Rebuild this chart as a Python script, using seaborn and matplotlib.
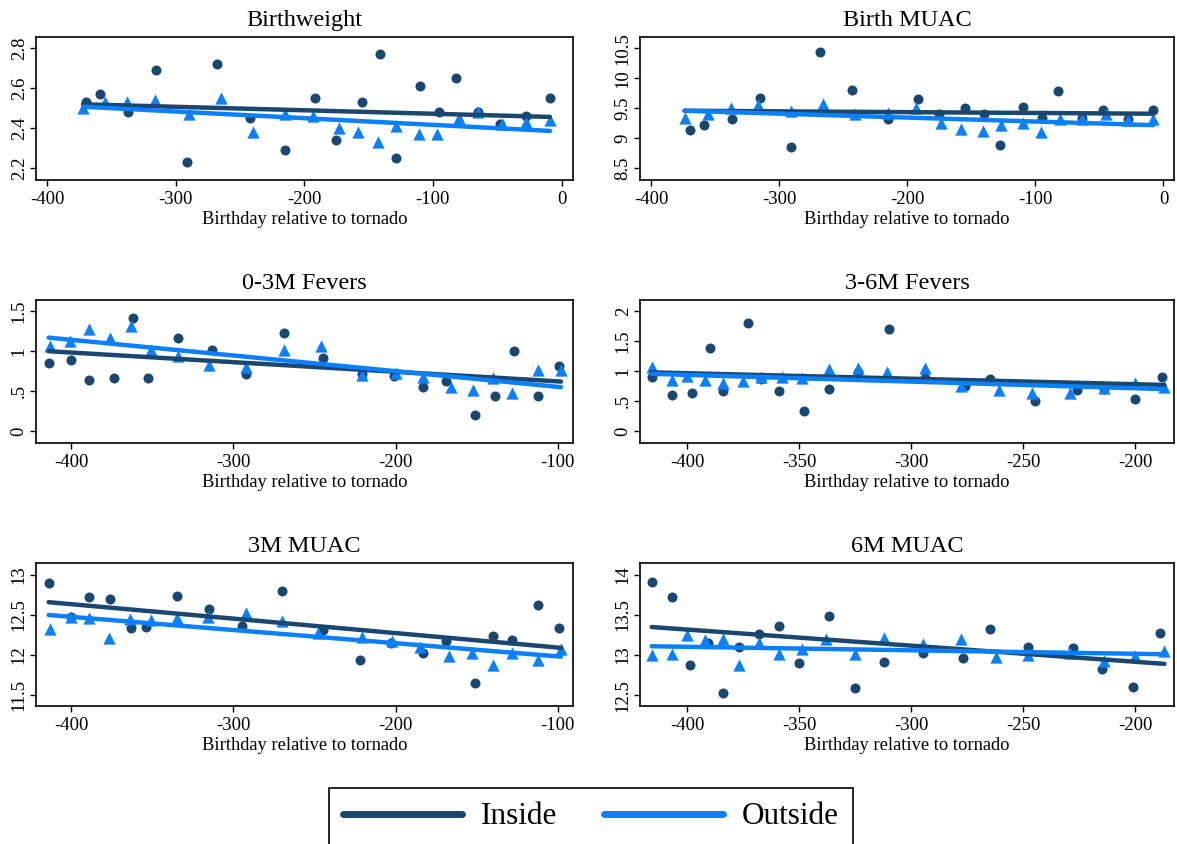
import matplotlib
matplotlib.use("Agg")
import matplotlib.pyplot as plt
from matplotlib.lines import Line2D
import seaborn as sns

# Colours
INSIDE = "#1a476f"
OUTSIDE = "#0a80ff"

# Birthweight
bw_x_in = [-370, -359, -337, -315, -291, -268, -242, -215, -192, -175, -155, -141, -129, -110, -95, -82, -65, -48, -28, -9]
bw_y_in = [2.53, 2.57, 2.48, 2.69, 2.23, 2.72, 2.45, 2.29, 2.55, 2.34, 2.53, 2.77, 2.25, 2.61, 2.48, 2.65, 2.48, 2.42, 2.46, 2.55]
bw_x_out = [-372, -355, -338, -316, -290, -265, -240, -215, -193, -173, -158, -143, -129, -111, -97, -80, -65, -46, -28, -9]
bw_y_out = [2.50, 2.53, 2.53, 2.54, 2.47, 2.55, 2.38, 2.47, 2.46, 2.40, 2.38, 2.33, 2.41, 2.37, 2.37, 2.45, 2.48, 2.42, 2.43, 2.44]
bw_fit_x = [-372, -9]
bw_fit_in = [2.52, 2.457]
bw_fit_out = [2.508, 2.387]

# Birth MUAC
mu_x_in = [-370, -359, -337, -315, -291, -268, -243, -215, -192, -175, -155, -140, -128, -110, -95, -82, -64, -47, -28, -8]
mu_y_in = [9.14, 9.22, 9.33, 9.67, 8.85, 10.44, 9.80, 9.32, 9.65, 9.41, 9.50, 9.41, 8.89, 9.52, 9.34, 9.79, 9.34, 9.47, 9.33, 9.48]
mu_x_out = [-374, -356, -338, -317, -291, -266, -241, -215, -193, -174, -158, -141, -127, -110, -96, -81, -64, -45, -28, -8]
mu_y_out = [9.34, 9.41, 9.51, 9.55, 9.45, 9.58, 9.40, 9.42, 9.50, 9.25, 9.16, 9.12, 9.22, 9.25, 9.10, 9.33, 9.33, 9.40, 9.30, 9.33]
mu_fit_x = [-374, -8]
mu_fit_in = [9.46, 9.41]
mu_fit_out = [9.46, 9.22]

# 0-3M Fevers
f3_x_in = [-414, -400, -389, -374, -362, -353, -334, -313, -292, -269, -245, -221, -201, -183, -169, -151, -139, -127, -112, -99]
f3_y_in = [0.85, 0.89, 0.64, 0.67, 1.41, 0.67, 1.16, 1.01, 0.72, 1.23, 0.91, 0.72, 0.69, 0.55, 0.63, 0.20, 0.44, 1.00, 0.44, 0.81]
f3_x_out = [-413, -401, -389, -376, -363, -351, -334, -315, -292, -269, -246, -221, -200, -183, -166, -152, -140, -128, -112, -98]
f3_y_out = [1.06, 1.13, 1.28, 1.16, 1.31, 1.02, 0.94, 0.83, 0.80, 1.02, 1.06, 0.70, 0.73, 0.68, 0.55, 0.51, 0.67, 0.48, 0.77, 0.77]
f3_fit_x = [-414, -98]
f3_fit_in = [1.00, 0.62]
f3_fit_out = [1.17, 0.55]

# 3-6M Fevers
f6_x_in = [-416, -407, -398, -390, -384, -373, -367, -359, -348, -337, -324, -310, -294, -276, -265, -245, -226, -214, -200, -188]
f6_y_in = [0.91, 0.60, 0.63, 1.38, 0.67, 1.80, 0.87, 0.67, 0.33, 0.70, 0.99, 1.70, 0.89, 0.76, 0.87, 0.50, 0.69, 0.71, 0.54, 0.90]
f6_x_out = [-416, -407, -400, -392, -384, -375, -367, -358, -349, -337, -324, -311, -294, -278, -261, -246, -229, -214, -200, -187]
f6_y_out = [1.07, 0.86, 0.92, 0.85, 0.81, 0.84, 0.91, 0.90, 0.88, 1.03, 1.06, 0.98, 1.06, 0.75, 0.69, 0.64, 0.64, 0.72, 0.81, 0.74]
f6_fit_x = [-416, -187]
f6_fit_in = [0.98, 0.77]
f6_fit_out = [0.955, 0.70]

# 3M MUAC
m3_x_in = [-414, -400, -389, -376, -363, -354, -335, -315, -295, -270, -245, -222, -203, -183, -169, -151, -140, -128, -112, -99]
m3_y_in = [12.90, 12.47, 12.73, 12.70, 12.34, 12.35, 12.74, 12.58, 12.36, 12.80, 12.31, 11.94, 12.15, 12.02, 12.18, 11.65, 12.24, 12.19, 12.63, 12.34]
m3_x_out = [-413, -400, -389, -377, -364, -351, -335, -316, -292, -270, -248, -221, -202, -185, -167, -153, -140, -128, -112, -98]
m3_y_out = [12.33, 12.48, 12.46, 12.21, 12.45, 12.44, 12.46, 12.47, 12.52, 12.42, 12.28, 12.23, 12.18, 12.10, 11.99, 12.02, 11.88, 12.03, 11.94, 12.08]
m3_fit_x = [-414, -98]
m3_fit_in = [12.66, 12.09]
m3_fit_out = [12.50, 11.98]

# 6M MUAC
m6_x_in = [-416, -407, -399, -391, -384, -377, -368, -359, -350, -337, -325, -312, -295, -277, -265, -248, -228, -215, -201, -189]
m6_y_in = [13.91, 13.72, 12.88, 13.15, 12.53, 13.10, 13.26, 13.36, 12.90, 13.49, 12.59, 12.91, 13.02, 12.96, 13.33, 13.10, 13.09, 12.83, 12.60, 13.28]
m6_x_out = [-416, -407, -400, -392, -384, -377, -368, -359, -349, -338, -325, -312, -295, -278, -262, -248, -229, -214, -200, -187]
m6_y_out = [13.00, 13.01, 13.25, 13.19, 13.20, 12.88, 13.15, 13.01, 13.08, 13.20, 13.01, 13.21, 13.14, 13.20, 12.98, 13.00, 13.03, 12.92, 12.99, 13.05]
m6_fit_x = [-416, -187]
m6_fit_in = [13.35, 12.89]
m6_fit_out = [13.11, 13.01]

titles = ["Birthweight", "Birth MUAC", "0-3M Fevers", "3-6M Fevers", "3M MUAC", "6M MUAC"]
y_ticks = [
    [2.2, 2.4, 2.6, 2.8],
    [8.5, 9, 9.5, 10, 10.5],
    [0, 0.5, 1, 1.5],
    [0, 0.5, 1, 1.5, 2],
    [11.5, 12, 12.5, 13],
    [12.5, 13, 13.5, 14],
]
y_tick_labels = [
    ["2.2", "2.4", "2.6", "2.8"],
    ["8.5", "9", "9.5", "10", "10.5"],
    ["0", ".5", "1", "1.5"],
    ["0", ".5", "1", "1.5", "2"],
    ["11.5", "12", "12.5", "13"],
    ["12.5", "13", "13.5", "14"],
]
x_ticks = [
    [-400, -300, -200, -100, 0],
    [-400, -300, -200, -100, 0],
    [-400, -300, -200, -100],
    [-400, -350, -300, -250, -200],
    [-400, -300, -200, -100],
    [-400, -350, -300, -250, -200],
]
x_lims = [(-408.6, 8.9), (-408.8, 8.2), (-421.8, -90.6), (-421.2, -182.7), (-421.8, -90.6), (-421.2, -182.7)]
y_lims = [(2.142, 2.856), (8.307, 10.687), (-0.149, 1.641), (-0.199, 2.1875), (11.364, 13.149), (12.364, 14.149)]

panels = [
    (bw_x_in, bw_y_in, bw_x_out, bw_y_out, bw_fit_x, bw_fit_in, bw_fit_out),
    (mu_x_in, mu_y_in, mu_x_out, mu_y_out, mu_fit_x, mu_fit_in, mu_fit_out),
    (f3_x_in, f3_y_in, f3_x_out, f3_y_out, f3_fit_x, f3_fit_in, f3_fit_out),
    (f6_x_in, f6_y_in, f6_x_out, f6_y_out, f6_fit_x, f6_fit_in, f6_fit_out),
    (m3_x_in, m3_y_in, m3_x_out, m3_y_out, m3_fit_x, m3_fit_in, m3_fit_out),
    (m6_x_in, m6_y_in, m6_x_out, m6_y_out, m6_fit_x, m6_fit_in, m6_fit_out),
]

sns.set_style("ticks")
plt.rcParams["font.family"] = ["Liberation Serif", "DejaVu Serif"]
plt.rcParams["text.color"] = "black"
plt.rcParams["axes.labelcolor"] = "black"
plt.rcParams["xtick.color"] = "black"
plt.rcParams["ytick.color"] = "black"

W, H = 1177, 844
fig = plt.figure(figsize=(W / 100, H / 100), dpi=100)

# frame boxes in pixels (left, right) and (top, bottom)
cols = [(36, 573), (640, 1174)]
rows = [(37, 180), (300, 443), (563, 706)]


def draw_panel(ax, data, i):
    x_in, y_in, x_out, y_out, fit_x, fit_in, fit_out = data
    sns.scatterplot(x=x_in, y=y_in, ax=ax, color=INSIDE, marker="o", s=52,
                    linewidth=0, zorder=2)
    sns.scatterplot(x=x_out, y=y_out, ax=ax, color=OUTSIDE, marker="^", s=78,
                    linewidth=0, zorder=3)
    sns.lineplot(x=fit_x, y=fit_in, ax=ax, color=INSIDE, linewidth=3.2, zorder=4)
    sns.lineplot(x=fit_x, y=fit_out, ax=ax, color=OUTSIDE, linewidth=3.2, zorder=5)

    ax.set_xlim(*x_lims[i])
    ax.set_ylim(*y_lims[i])
    ax.set_xticks(x_ticks[i])
    ax.set_xticklabels([str(t) for t in x_ticks[i]])
    ax.set_yticks(y_ticks[i])
    ax.set_yticklabels(y_tick_labels[i], rotation=90, va="center")
    ax.tick_params(axis="both", labelsize=13.5, length=4, width=1,
                   color="black", labelcolor="black")
    ax.tick_params(axis="x", pad=4)
    ax.tick_params(axis="y", pad=2)
    ax.set_title(titles[i], fontsize=17.5, pad=8, color="black")
    ax.set_xlabel("Birthday relative to tornado", fontsize=13.3, labelpad=2,
                  color="black")
    ax.set_ylabel("")
    for sp in ax.spines.values():
        sp.set_visible(True)
        sp.set_linewidth(1.2)
        sp.set_color("black")


for i, data in enumerate(panels):
    r, c = divmod(i, 2)
    left, right = cols[c]
    top, bottom = rows[r]
    ax = fig.add_axes([left / W, 1 - bottom / H, (right - left) / W, (bottom - top) / H])
    draw_panel(ax, data, i)

handles = [
    Line2D([], [], color=INSIDE, linewidth=5),
    Line2D([], [], color=OUTSIDE, linewidth=5),
]
leg = fig.legend(handles, ["Inside", "Outside"], ncol=2, loc="center",
                 bbox_to_anchor=(591 / W, 1 - 817 / H), fontsize=22.5,
                 frameon=True, fancybox=False, edgecolor="black", framealpha=1,
                 handlelength=3.8, handletextpad=0.6, columnspacing=1.5,
                 borderpad=0.45, labelcolor="black")
leg.get_frame().set_linewidth(1.2)

fig.savefig("out.png", dpi=100)
